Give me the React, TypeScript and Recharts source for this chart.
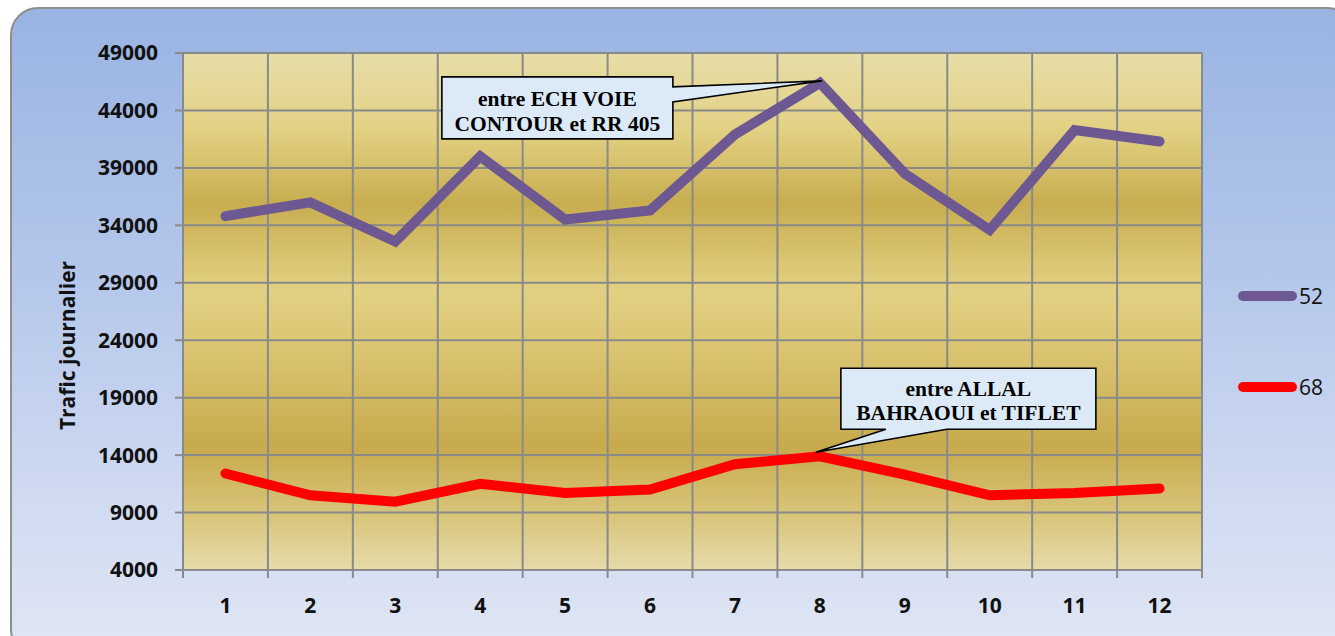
import React from 'react'
import { LineChart, Line, XAxis, YAxis, CartesianGrid, ReferenceDot } from 'recharts'

// jours / points de comptage 1..12
const categories = [1, 2, 3, 4, 5, 6, 7, 8, 9, 10, 11, 12]
const route52 = [34800, 36000, 32600, 40000, 34500, 35300, 41900, 46400, 38500, 33600, 42300, 41300]
const route68 = [12400, 10500, 9950, 11500, 10700, 11000, 13200, 13900, 12300, 10500, 10700, 11100]
const yTicks = [4000, 9000, 14000, 19000, 24000, 29000, 34000, 39000, 44000, 49000]
const callout52 = ['entre ECH VOIE', 'CONTOUR et RR 405']
const callout68 = ['entre ALLAL', 'BAHRAOUI et TIFLET']

const PURPLE = '#6e5892'
const RED = '#ff0000'
const GRID = '#8a8a8a'

const data = categories.map((c, i) => ({ x: c, r52: route52[i], r68: route68[i] }))
const boundaries = [...categories.map(c => c - 0.5), categories[categories.length - 1] + 0.5]
const peak = route52.indexOf(Math.max(...route52))

const calloutText = { fontFamily: '"Liberation Serif", "Times New Roman", serif', fontWeight: 700, fontSize: 21.5 }

function CalloutTop({ cx, cy }: any) {
  if (cx == null) return null
  const l = cx - 378, r = cx - 147, t = cy - 6, b = cy + 56
  const d = `M${l},${t} H${r} V${cy + 4} L${cx + 2},${cy - 2} L${r},${cy + 19} V${b} H${l} Z`
  const mid = (l + r) / 2
  return (
    <g>
      <path d={d} fill="#dceaf8" stroke="#000" strokeWidth={1.6} />
      <text x={mid} y={t + 29} textAnchor="middle" style={calloutText} fill="#000">{callout52[0]}</text>
      <text x={mid} y={t + 54} textAnchor="middle" style={calloutText} fill="#000">{callout52[1]}</text>
    </g>
  )
}

function CalloutBottom({ cx, cy }: any) {
  if (cx == null) return null
  const l = cx + 21, r = cx + 276, t = cy - 88, b = cy - 27
  const d = `M${l},${t} H${r} V${b} H${cx + 127} L${cx - 4},${cy - 4} L${cx + 66},${b} H${l} Z`
  const mid = (l + r) / 2
  return (
    <g>
      <path d={d} fill="#dceaf8" stroke="#000" strokeWidth={1.6} />
      <text x={mid} y={t + 28} textAnchor="middle" style={calloutText} fill="#000">{callout68[0]}</text>
      <text x={mid} y={t + 52} textAnchor="middle" style={calloutText} fill="#000">{callout68[1]}</text>
    </g>
  )
}

const tickStyle = { fontFamily: '"Open Sans", sans-serif', fontWeight: 700, fontSize: 21, fill: '#111' }

function LegendItem({ color, label, top }: { color: string; label: string; top: number }) {
  return (
    <div style={{ position: 'absolute', left: 1226, top: top - 14, height: 28, display: 'flex', alignItems: 'center' }}>
      <div style={{ width: 59, height: 10, borderRadius: 5, background: color }} />
      <span style={{ fontFamily: '"Open Sans", sans-serif', fontSize: 21, color: '#111', marginLeft: 2 }}>{label}</span>
    </div>
  )
}

export default function App() {
  return (
    <div style={{ position: 'relative', width: 1335, height: 636, overflow: 'hidden', background: '#fff' }}>
      <style>{'body{margin:0}'}</style>
      <div
        style={{
          position: 'absolute', left: 10, top: 7, width: 1345, height: 650, boxSizing: 'border-box',
          border: '2px solid #8e8e8e', borderRadius: 28,
          background: 'linear-gradient(to bottom, #99b3e2 0%, #b3c6ea 40%, #cfdaf1 75%, #e0e6f4 100%)'
        }}
      >
        <LineChart width={1323} height={627} data={data} margin={{ top: 44, right: 133, bottom: 8, left: 51 }}>
          <defs>
            <linearGradient id="plotFill" x1="0" y1="0" x2="0" y2="1">
              <stop offset="0" stopColor="#e7dda8" />
              <stop offset="0.15" stopColor="#e2d183" />
              <stop offset="0.29" stopColor="#c8ad50" />
              <stop offset="0.46" stopColor="#e2d183" />
              <stop offset="0.6" stopColor="#d8c16d" />
              <stop offset="0.76" stopColor="#c7aa4c" />
              <stop offset="0.9" stopColor="#d9c67c" />
              <stop offset="1" stopColor="#e6dbaa" />
            </linearGradient>
          </defs>
          <CartesianGrid xAxisId="grid" stroke={GRID} strokeWidth={2} fill="url(#plotFill)" fillOpacity={1} />
          <XAxis
            xAxisId="grid" dataKey="x" type="number" domain={[boundaries[0], boundaries[boundaries.length - 1]]}
            ticks={boundaries} interval={0} tickFormatter={() => ''} tickSize={8} height={8}
            axisLine={{ stroke: GRID, strokeWidth: 2 }} tickLine={{ stroke: GRID, strokeWidth: 2 }}
          />
          <XAxis
            xAxisId="lab" dataKey="x" type="number" domain={[boundaries[0], boundaries[boundaries.length - 1]]}
            ticks={categories} tick={tickStyle} tickSize={0} tickMargin={20} height={50}
            axisLine={false} tickLine={false} interval={0}
          />
          <YAxis
            domain={[yTicks[0], yTicks[yTicks.length - 1]]} ticks={yTicks} interval={0} width={120}
            tick={tickStyle} tickSize={8} tickMargin={17}
            axisLine={{ stroke: GRID, strokeWidth: 2 }} tickLine={{ stroke: GRID, strokeWidth: 2 }}
            label={{
              content: ({ viewBox }: any) => {
                const cy = viewBox.y + viewBox.height / 2 + 34
                return (
                  <text
                    x={viewBox.x + 4} y={cy} textAnchor="middle" dominantBaseline="central"
                    transform={`rotate(-90, ${viewBox.x + 4}, ${cy})`}
                    style={{ fontFamily: '"Open Sans", sans-serif', fontWeight: 700, fontSize: 21, fill: '#111' }}
                  >
                    Trafic journalier
                  </text>
                )
              }
            }}
          />
          <Line xAxisId="lab" dataKey="r52" stroke={PURPLE} strokeWidth={10} dot={false} activeDot={false}
            strokeLinecap="round" strokeLinejoin="miter" isAnimationActive={false} />
          <Line xAxisId="lab" dataKey="r68" stroke={RED} strokeWidth={10} dot={false} activeDot={false}
            strokeLinecap="round" strokeLinejoin="miter" isAnimationActive={false} />
          <ReferenceDot xAxisId="lab" x={categories[peak]} y={route52[peak]} shape={(p: any) => <CalloutTop {...p} />} />
          <ReferenceDot xAxisId="lab" x={categories[peak]} y={route68[peak]} shape={(p: any) => <CalloutBottom {...p} />} />
        </LineChart>
        <LegendItem color={PURPLE} label="52" top={287} />
        <LegendItem color={RED} label="68" top={378} />
      </div>
    </div>
  )
}
